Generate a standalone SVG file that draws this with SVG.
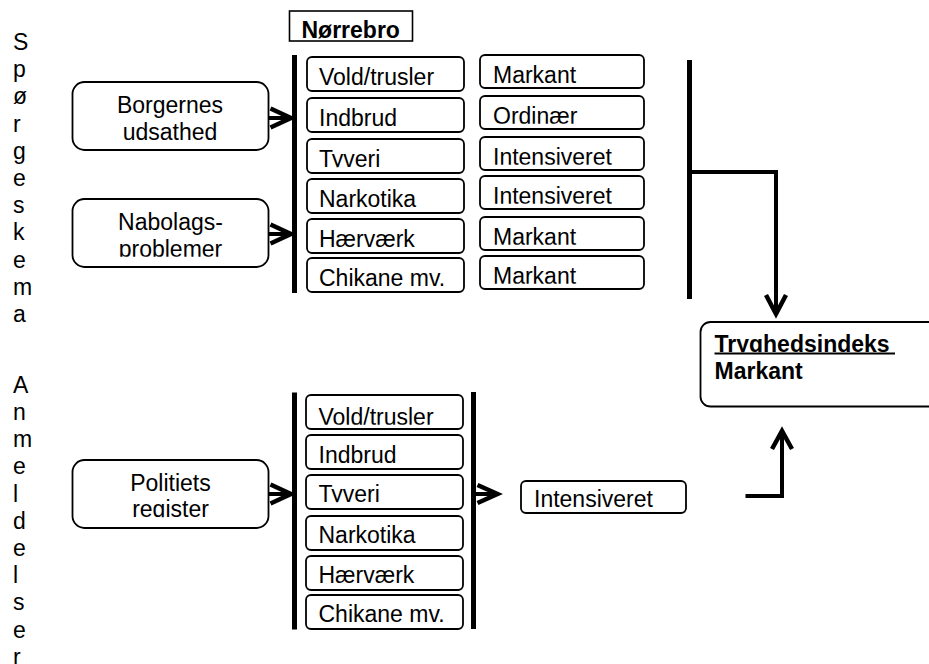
<svg xmlns="http://www.w3.org/2000/svg" width="929" height="664" viewBox="0 0 929 664">
<defs>
<style>
text{font-family:"Liberation Sans",Arial,sans-serif;font-size:23px;fill:#000}
.b{font-weight:bold}
.box{fill:#fff;stroke:#000;stroke-width:1.8}
.bar{stroke:#000;stroke-width:5;fill:none}
.ln{stroke:#000;stroke-width:4;fill:none;stroke-linecap:butt}
.hd{stroke:#000;stroke-width:4.5;fill:none;stroke-linejoin:miter;stroke-linecap:butt}
.cut{clip-path:url(#cut)}
.m{text-anchor:middle}
</style>
<clipPath id="cut" clipPathUnits="objectBoundingBox"><rect x="-0.1" y="-0.3" width="1.2" height="1.115"/></clipPath>
</defs>
<rect width="929" height="664" fill="#fff"/>

<g id="label-spoergeskema">
<text x="13" y="50">S</text><text x="13" y="77.2">p</text><text x="13" y="104.4">ø</text><text x="13" y="131.6">r</text><text x="13" y="158.8">g</text><text x="13" y="186">e</text><text x="13" y="213.2">s</text><text x="13" y="240.4">k</text><text x="13" y="267.6">e</text><text x="13" y="294.8">m</text><text x="13" y="322">a</text>
</g>
<g id="label-anmeldelser">
<text x="13" y="392.7">A</text><text x="13" y="419.9">n</text><text x="13" y="447.1">m</text><text x="13" y="474.3">e</text><text x="13" y="501.5">l</text><text x="13" y="528.7">d</text><text x="13" y="555.9">e</text><text x="13" y="583.1">l</text><text x="13" y="610.3">s</text><text x="13" y="637.5">e</text><text x="13" y="664.7">r</text>
</g>

<g id="norrebro">
<rect x="289.5" y="11" width="123" height="30" fill="#fff" stroke="#000" stroke-width="1.6"/>
<text class="b" x="301.5" y="37.5">Nørrebro</text>
</g>

<g id="borgernes">
<rect class="box" x="72.5" y="82" width="196" height="68" rx="12"/>
<text class="m" x="170" y="113">Borgernes</text>
<text class="m" x="170" y="140">udsathed</text>
</g>
<g id="nabolag">
<rect class="box" x="72.5" y="199" width="196" height="68" rx="12"/>
<text class="m" x="170.5" y="230">Nabolags-</text>
<text class="m cut" x="170.5" y="256.5">problemer</text>
</g>
<g id="politi">
<rect class="box" x="72.5" y="460" width="196" height="68" rx="12"/>
<text class="m" x="170.5" y="491">Politiets</text>
<text class="m cut" x="170.5" y="517">register</text>
</g>

<g id="top-categories">
<g id="t-vold"><rect class="box" x="307" y="57" width="157" height="34" rx="5"/><text class="cut" x="319" y="85">Vold/trusler</text></g>
<g id="t-indbrud"><rect class="box" x="307" y="98" width="157" height="34" rx="5"/><text class="cut" x="319" y="126">Indbrud</text></g>
<g id="t-tyveri"><rect class="box" x="307" y="139" width="157" height="34" rx="5"/><text class="cut" x="319" y="167">Tyveri</text></g>
<g id="t-narko"><rect class="box" x="307" y="179" width="157" height="34" rx="5"/><text class="cut" x="319" y="207">Narkotika</text></g>
<g id="t-haervaerk"><rect class="box" x="307" y="219" width="157" height="34" rx="5"/><text class="cut" x="319" y="247">Hærværk</text></g>
<g id="t-chikane"><rect class="box" x="307" y="258" width="157" height="34" rx="5"/><text class="cut" x="319" y="286">Chikane mv.</text></g>
</g>

<g id="top-ratings">
<g id="r-1"><rect class="box" x="480" y="55" width="164" height="33" rx="5"/><text class="cut" x="493" y="83">Markant</text></g>
<g id="r-2"><rect class="box" x="480" y="96" width="164" height="33" rx="5"/><text class="cut" x="493" y="123.5">Ordinær</text></g>
<g id="r-3"><rect class="box" x="480" y="137" width="164" height="33" rx="5"/><text class="cut" x="493" y="164.5">Intensiveret</text></g>
<g id="r-4"><rect class="box" x="480" y="176" width="164" height="33" rx="5"/><text class="cut" x="493" y="203.5">Intensiveret</text></g>
<g id="r-5"><rect class="box" x="480" y="217" width="164" height="33" rx="5"/><text class="cut" x="493" y="244.5">Markant</text></g>
<g id="r-6"><rect class="box" x="480" y="256" width="164" height="33" rx="5"/><text class="cut" x="493" y="283.5">Markant</text></g>
</g>

<g id="bottom-categories">
<g id="b-vold"><rect class="box" x="306" y="395" width="157" height="34" rx="5"/><text class="cut" x="318.5" y="424.5">Vold/trusler</text></g>
<g id="b-indbrud"><rect class="box" x="306" y="435" width="157" height="34" rx="5"/><text class="cut" x="318.5" y="463">Indbrud</text></g>
<g id="b-tyveri"><rect class="box" x="306" y="475" width="157" height="34" rx="5"/><text class="cut" x="318.5" y="502">Tyveri</text></g>
<g id="b-narko"><rect class="box" x="306" y="516" width="157" height="34" rx="5"/><text class="cut" x="318.5" y="543">Narkotika</text></g>
<g id="b-haervaerk"><rect class="box" x="306" y="556" width="157" height="34" rx="5"/><text class="cut" x="318.5" y="583">Hærværk</text></g>
<g id="b-chikane"><rect class="box" x="306" y="595" width="157" height="34" rx="5"/><text class="cut" x="318.5" y="622">Chikane mv.</text></g>
</g>

<g id="b-intensiveret">
<rect class="box" x="521" y="481" width="165" height="32" rx="5"/>
<text class="cut" x="534" y="507">Intensiveret</text>
</g>

<g id="tryghed">
<rect class="box" x="700.5" y="322" width="300" height="84.5" rx="10"/>
<text class="b cut" x="714.5" y="352">Tryghedsindeks</text>
<line x1="714.5" y1="353.5" x2="895" y2="353.5" stroke="#000" stroke-width="2"/>
<text class="b" x="714.5" y="378.5">Markant</text>
</g>

<g id="connectors">
<line class="bar" x1="294.5" y1="55" x2="294.5" y2="293"/>
<line class="bar" x1="689.5" y1="60" x2="689.5" y2="299"/>
<line class="bar" x1="294.5" y1="392.5" x2="294.5" y2="629.5"/>
<line class="bar" x1="473.5" y1="392" x2="473.5" y2="629"/>

<line class="ln" x1="268.5" y1="118" x2="290" y2="118"/>
<polyline class="hd" points="270.5,108.5 291,118 270.5,127.5"/>
<line class="ln" x1="268.5" y1="234" x2="290" y2="234"/>
<polyline class="hd" points="270.5,224.5 291,234 270.5,243.5"/>
<line class="ln" x1="268.5" y1="494" x2="290" y2="494"/>
<polyline class="hd" points="270.5,484.5 291,494 270.5,503.5"/>

<line class="ln" x1="476" y1="494" x2="496" y2="494"/>
<polyline class="hd" points="477.5,485 497.5,494 477.5,503"/>

<polyline class="ln" points="692,172 776,172 776,312"/>
<polyline class="hd" points="766,295 776,314 786,295"/>

<polyline class="ln" points="745.5,496 782,496 782,433"/>
<polyline class="hd" points="772,449 782,431 792,449"/>
</g>
</svg>
